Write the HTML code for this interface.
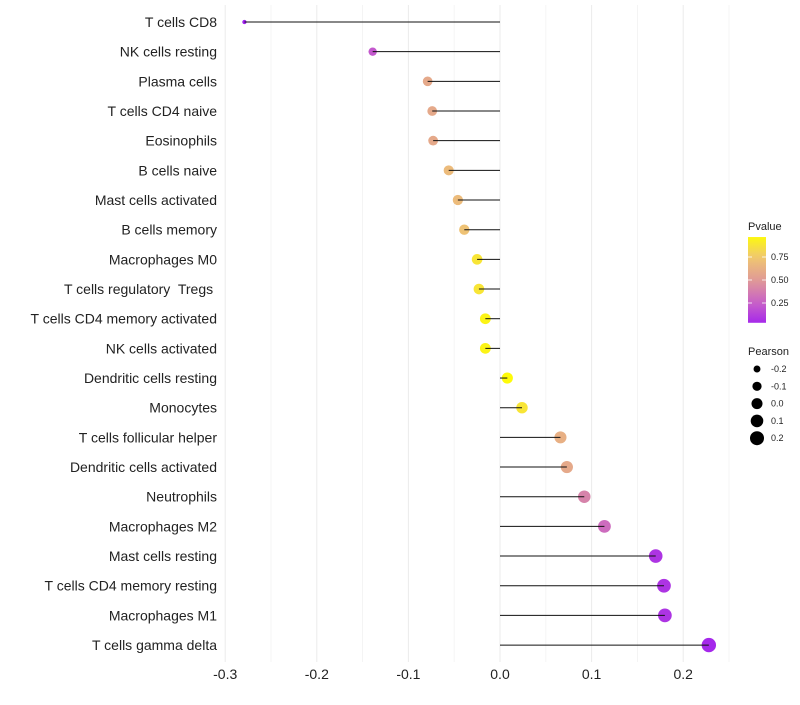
<!DOCTYPE html>
<html><head><meta charset="utf-8"><style>
body{margin:0;background:#fff;font-family:"Liberation Sans",sans-serif}
svg text{font-family:"Liberation Sans",sans-serif;white-space:pre}
</style></head><body>
<svg id="c" width="800" height="700"></svg>
<script>
const categories=["T cells CD8","NK cells resting","Plasma cells","T cells CD4 naive","Eosinophils","B cells naive","Mast cells activated","B cells memory","Macrophages M0","T cells regulatory  Tregs ","T cells CD4 memory activated","NK cells activated","Dendritic cells resting","Monocytes","T cells follicular helper","Dendritic cells activated","Neutrophils","Macrophages M2","Mast cells resting","T cells CD4 memory resting","Macrophages M1","T cells gamma delta"];
const pearson=[-0.279,-0.139,-0.079,-0.074,-0.073,-0.056,-0.046,-0.039,-0.025,-0.023,-0.016,-0.016,0.008,0.024,0.066,0.073,0.092,0.114,0.170,0.179,0.180,0.228];
const pvalues=[0.0,0.22,0.58,0.58,0.58,0.68,0.68,0.72,0.88,0.88,0.95,0.95,0.98,0.88,0.62,0.58,0.40,0.30,0.08,0.08,0.08,0.03];
const xTicks=[-0.3,-0.2,-0.1,0.0,0.1,0.2];
const xMinor=[-0.25,-0.15,-0.05,0.05,0.15,0.25];
const pvTicks=[0.25,0.5,0.75];
const sizeTicks=[-0.2,-0.1,0.0,0.1,0.2];

const NS="http://www.w3.org/2000/svg";
const svg=document.getElementById('c');
const X=v=>500+v*916;
const Y=i=>22+i*29.67;
const R=v=>Math.sqrt(Math.max(3,30.5+92.5*v));
const PY=v=>257+(0.75-v)*92;
const stops=[[0,[160,32,240]],[0.25,[200,96,200]],[0.5,[224,154,150]],[0.75,[240,200,112]],[1,[255,255,0]]];
function col(p){p=Math.max(0,Math.min(1,p));for(let i=1;i<stops.length;i++){if(p<=stops[i][0]){const a=stops[i-1],b=stops[i],t=(p-a[0])/(b[0]-a[0]);return 'rgb('+a[1].map((c,k)=>Math.round(c+(b[1][k]-c)*t)).join(',')+')';}}return 'rgb(255,255,0)';}
function mk(tag,attrs,txt){const e=document.createElementNS(NS,tag);for(const k in attrs)e.setAttribute(k,attrs[k]);if(txt!==undefined)e.textContent=txt;svg.appendChild(e);return e;}

xMinor.forEach(v=>{const l=mk('line',{x1:X(v),x2:X(v),y1:5,y2:662,stroke:'#f2f2f2','stroke-width':0.8});

});
xTicks.forEach(v=>{const l=mk('line',{x1:X(v),x2:X(v),y1:5,y2:662,stroke:'#ebebeb','stroke-width':1});


const t=mk('text',{x:X(v),y:679,'text-anchor':'middle','font-size':14,fill:'#222'},v.toFixed(1));

});
categories.forEach((c,i)=>{const y=Y(i);
const t=mk('text',{x:217,y:y+5,'text-anchor':'end','font-size':14,fill:'#222'},c);


const p=mk('circle',{cx:X(pearson[i]),cy:y,r:R(pearson[i]),fill:col(pvalues[i])});


const l=mk('line',{x1:X(0),x2:X(pearson[i]),y1:y,y2:y,stroke:'#111','stroke-width':1});

});

const lt=mk('text',{x:748,y:230,'font-size':11,fill:'#222'},'Pvalue');


const defs=mk('defs',{});
const g=document.createElementNS(NS,'linearGradient');g.setAttribute('id','gr');g.setAttribute('x1','0');g.setAttribute('y1','1');g.setAttribute('x2','0');g.setAttribute('y2','0');defs.appendChild(g);
const v0=0.035,v1=0.967;
for(let k=0;k<=10;k++){const v=v0+(v1-v0)*k/10;const s=document.createElementNS(NS,'stop');s.setAttribute('offset',k/10);s.setAttribute('stop-color',col(v));g.appendChild(s);}
const cb=mk('rect',{x:748,y:PY(v1),width:18,height:PY(v0)-PY(v1),fill:'url(#gr)'});


pvTicks.forEach(v=>{mk('line',{x1:748,x2:752,y1:PY(v),y2:PY(v),stroke:'#fff','stroke-width':0.8});mk('line',{x1:762,x2:766,y1:PY(v),y2:PY(v),stroke:'#fff','stroke-width':0.8});
const t=mk('text',{x:771,y:PY(v)+3,'font-size':9,fill:'#222'},v.toFixed(2));

});
const st=mk('text',{x:748,y:355,'font-size':11,fill:'#222'},'Pearson');


sizeTicks.forEach((v,k)=>{const y=369+k*17.3;
const c=mk('circle',{cx:757,cy:y,r:R(v),fill:'#000'});


const t=mk('text',{x:771,y:y+3,'font-size':9,fill:'#222'},v.toFixed(1));

});
</script>
</body></html>
